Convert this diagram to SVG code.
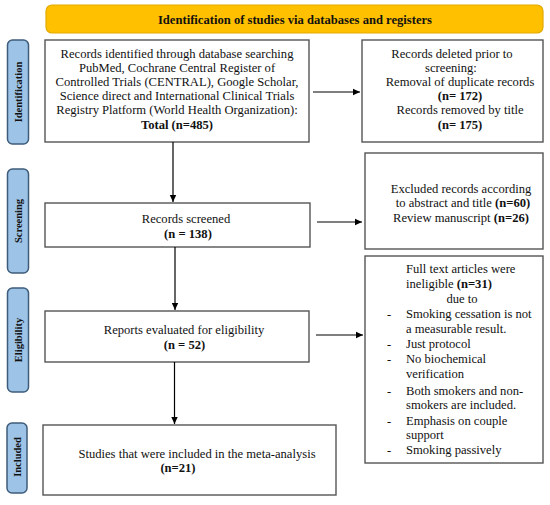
<svg xmlns="http://www.w3.org/2000/svg" width="550" height="505" viewBox="0 0 550 505">
<defs>
<style>
text{font-family:"Liberation Serif","Times New Roman",serif;font-size:12.6px;fill:#111}
.c{text-anchor:middle}
.b{font-weight:bold}
.box{fill:#fff;stroke:#555;stroke-width:1.4}
.lab{fill:#9DC3E6;stroke:#3E5C7A;stroke-width:1.5}
.labt{font-size:10.5px;font-weight:bold;text-anchor:middle}
.ban{fill:#FFC000;stroke:#E3A900;stroke-width:1.2}
.con{stroke:#000;stroke-width:1.2;fill:none;marker-end:url(#ah)}
</style>
<marker id="ah" markerUnits="userSpaceOnUse" markerWidth="8" markerHeight="8" refX="7" refY="4" orient="auto">
<path d="M0,0.8 L7,4 L0,7.2 Z" fill="#000"/>
</marker>
</defs>
<g id="banner">
<rect class="ban" x="46" y="5" width="497" height="28" rx="6"/>
<text class="c b" x="295" y="23.5">Identification of studies via databases and registers</text>
</g>
<g id="label-identification">
<rect class="lab" x="7.5" y="40" width="21" height="104" rx="5"/>
<text class="labt" transform="translate(21.5,92) rotate(-90)">Identification</text>
</g>
<g id="label-screening">
<rect class="lab" x="7.5" y="169" width="21" height="104" rx="5"/>
<text class="labt" transform="translate(21.5,221) rotate(-90)">Screening</text>
</g>
<g id="label-eligibility">
<rect class="lab" x="7.5" y="288" width="21" height="104" rx="5"/>
<text class="labt" transform="translate(21.5,340) rotate(-90)">Eligibility</text>
</g>
<g id="label-included">
<rect class="lab" x="7" y="423" width="20" height="70" rx="5"/>
<text class="labt" transform="translate(20.5,457) rotate(-90)">Included</text>
</g>
<g id="records-identified">
<rect class="box" x="45" y="40" width="264" height="102"/>
<text class="c" x="177" y="57.5">Records identified through database searching</text>
<text class="c" x="177" y="71.7">PubMed, Cochrane Central Register of</text>
<text class="c" x="177" y="85.9">Controlled Trials (CENTRAL), Google Scholar,</text>
<text class="c" x="177" y="100.1">Science direct and International Clinical Trials</text>
<text class="c" x="177" y="114.3">Registry Platform (World Health Organization):</text>
<text class="c b" x="177" y="128.5">Total (n=485)</text>
</g>
<g id="records-deleted">
<rect class="box" x="362" y="40" width="181" height="102"/>
<text class="c" x="452" y="57.5">Records deleted prior to</text>
<text class="c" x="451" y="71.7">screening:</text>
<text class="c" x="460" y="85.9">Removal of duplicate records</text>
<text class="c b" x="460" y="100.1">(n= 172)</text>
<text class="c" x="460" y="114.3">Records removed by title</text>
<text class="c b" x="460" y="128.5">(n= 175)</text>
</g>
<g id="records-screened">
<rect class="box" x="45" y="203" width="265" height="44"/>
<text class="c" x="186" y="223">Records screened</text>
<text class="c b" x="188" y="238">(n = 138)</text>
</g>
<g id="records-excluded">
<rect class="box" x="365" y="153" width="178" height="96"/>
<text class="c" x="461" y="192.5">Excluded records according</text>
<text class="c" x="463" y="207">to abstract and title <tspan class="b">(n=60)</tspan></text>
<text class="c" x="461" y="221.5">Review manuscript <tspan class="b">(n=26)</tspan></text>
</g>
<g id="reports-evaluated">
<rect class="box" x="45" y="311" width="264" height="51"/>
<text class="c" x="184" y="334">Reports evaluated for eligibility</text>
<text class="c b" x="184.5" y="348.5">(n = 52)</text>
</g>
<g id="reports-excluded">
<rect class="box" x="365" y="256" width="178" height="207"/>
<text x="406" y="273">Full text articles were</text>
<text x="406" y="287.5">ineligible <tspan class="b">(n=31)</tspan></text>
<text class="c" x="462" y="303">due to</text>
<text x="387" y="318">-</text><text x="406" y="318">Smoking cessation is not</text>
<text x="406" y="333">a measurable result.</text>
<text x="387" y="348">-</text><text x="406" y="348">Just protocol</text>
<text x="387" y="363">-</text><text x="406" y="363">No biochemical</text>
<text x="406" y="378">verification</text>
<text x="387" y="395">-</text><text x="406" y="395">Both smokers and non-</text>
<text x="406" y="408.5">smokers are included.</text>
<text x="387" y="425">-</text><text x="406" y="425">Emphasis on couple</text>
<text x="406" y="439">support</text>
<text x="387" y="454">-</text><text x="406" y="454">Smoking passively</text>
</g>
<g id="studies-included">
<rect class="box" x="43" y="425" width="293" height="70"/>
<text class="c" x="197" y="457.5">Studies that were included in the meta-analysis</text>
<text class="c b" x="178" y="472">(n=21)</text>
</g>
<g id="connectors">
<line class="con" x1="313" y1="92" x2="360" y2="92"/>
<line class="con" x1="173" y1="142" x2="173" y2="202"/>
<line class="con" x1="317" y1="222" x2="362" y2="222"/>
<line class="con" x1="175" y1="247" x2="175" y2="310"/>
<line class="con" x1="316" y1="335" x2="363" y2="335"/>
<line class="con" x1="174.5" y1="362" x2="174.5" y2="424"/>
</g>
</svg>
